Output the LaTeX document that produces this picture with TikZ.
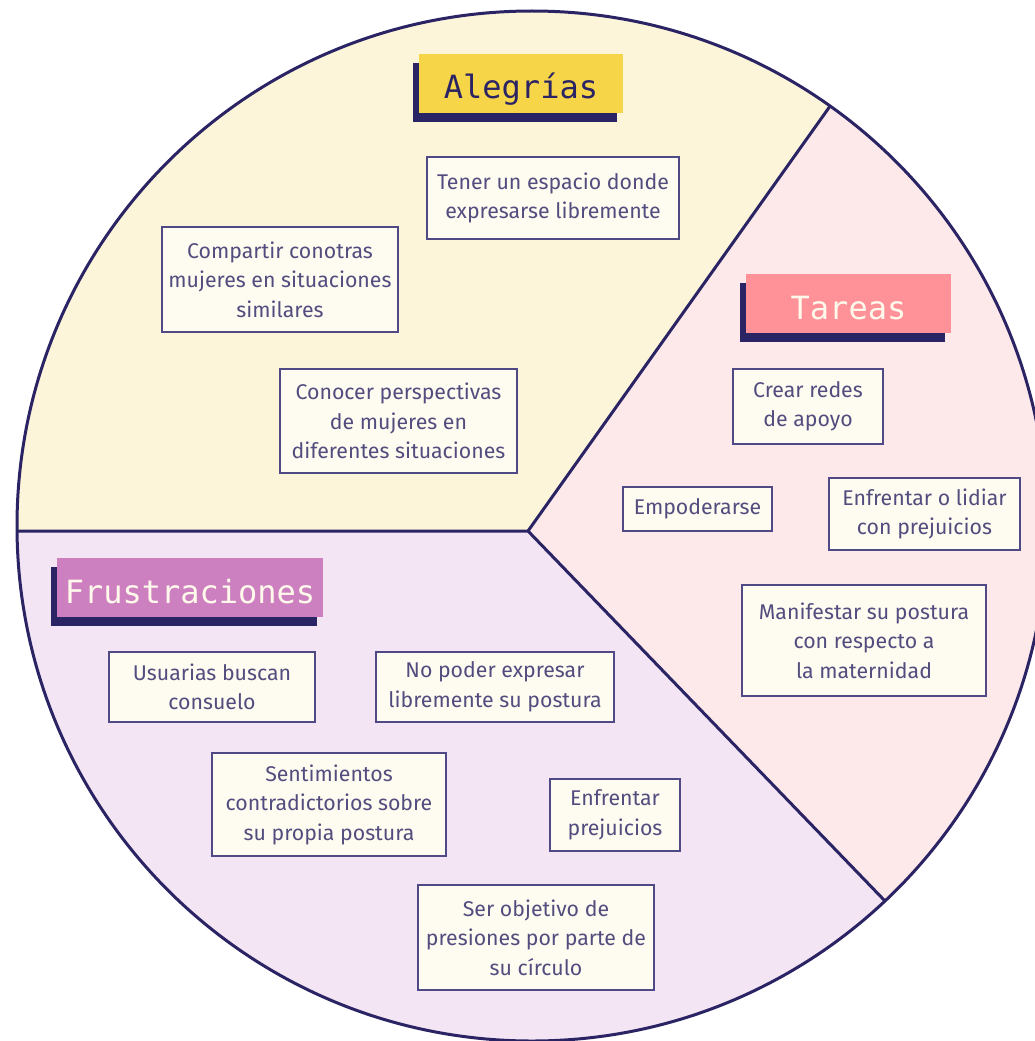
\documentclass[tikz,border=0pt]{standalone}
\usepackage{fontspec}
\setmainfont{Fira Sans}
\newfontfamily\tagfont{DejaVu Sans Mono}
\usetikzlibrary{shadows}
\definecolor{navy}{HTML}{2B2464}
\definecolor{cream}{HTML}{FCF5DA}
\definecolor{blush}{HTML}{FDE9EA}
\definecolor{lilac}{HTML}{F3E5F4}
\definecolor{sun}{HTML}{F7D548}
\definecolor{rose}{HTML}{FF9198}
\definecolor{orchid}{HTML}{CD80C0}
\definecolor{paper}{HTML}{FFF9EC}
\definecolor{boxfill}{HTML}{FEFBF0}
\definecolor{boxline}{HTML}{4F4A85}
\definecolor{boxtext}{HTML}{524D7E}
\tikzset{
	box/.style={draw=boxline, line width=1.8pt, fill=boxfill, text=boxtext, inner sep=0pt,
		align=center, font=\fontsize{21.3}{29.5}\selectfont},
	tag/.style={inner sep=0pt, minimum height=59pt, text height=31pt, text depth=0pt,
		font=\tagfont\fontsize{32}{32}\selectfont,
		drop shadow={shadow xshift=-6pt, shadow yshift=-9pt, fill=navy, opacity=1}},
}
\begin{document}
\begin{tikzpicture}[x=1pt,y=-1pt]
	\useasboundingbox[fill=white] (0,0) rectangle (1034,1041);
	\coordinate (O) at (532,526);
	\coordinate (J) at (528,531);
	\coordinate (W) at (-60,531);
	\coordinate (NE) at (1128,-313);
	\coordinate (SE) at (1242,1271);
	\begin{scope}
		\clip (O) circle (515);
		\fill[lilac] (O) circle (515);
		\fill[cream] (J) -- (W) -- (-60,-340) -- (NE) -- cycle;
		\fill[blush] (J) -- (NE) -- (1300,-313) -- (1300,1271) -- (SE) -- cycle;
		\draw[navy, line width=3pt] (W) -- (J) -- (NE) (J) -- (SE);
	\end{scope}
	\draw[navy, line width=3pt] (O) circle (515);
	\node[tag, fill=sun, text=navy, minimum width=204pt] (alegrias) at (521,83.5) {Alegrías};
	\node[tag, fill=rose, text=paper, minimum width=205pt] (tareas) at (848.5,303.5) {Tareas};
	\node[tag, fill=orchid, text=paper, minimum width=266pt] (frustraciones) at (190,587.5) {Frustraciones};
	\node[box, minimum width=252pt, minimum height=82pt] (espacio) at (553,198)
	{Tener un espacio donde\\expresarse libremente};
	\node[box, minimum width=236pt, minimum height=105pt] (compartir) at (280,279.5)
	{Compartir conotras\\mujeres en situaciones\\similares};
	\node[box, minimum width=237pt, minimum height=104pt] (conocer) at (398.5,421)
	{Conocer perspectivas\\de mujeres en\\diferentes situaciones};
	\node[box, minimum width=150pt, minimum height=75pt] (redes) at (808,406.5)
	{Crear redes\\de apoyo};
	\node[box, minimum width=149pt, minimum height=44pt] (empoderarse) at (697.5,509)
	{Empoderarse};
	\node[box, minimum width=191pt, minimum height=72pt] (lidiar) at (924.5,514)
	{Enfrentar o lidiar\\con prejuicios};
	\node[box, minimum width=244pt, minimum height=111pt] (manifestar) at (864,640.5)
	{Manifestar su postura\\con respecto a\\la maternidad};
	\node[box, minimum width=206pt, minimum height=70pt] (consuelo) at (212,687)
	{Usuarias buscan\\consuelo};
	\node[box, minimum width=238pt, minimum height=70pt] (noexpresar) at (495,687)
	{No poder expresar\\libremente su postura};
	\node[box, minimum width=234pt, minimum height=103pt] (sentimientos) at (329,804.5)
	{Sentimientos\\contradictorios sobre\\su propia postura};
	\node[box, minimum width=130pt, minimum height=72pt] (prejuicios) at (615,815)
	{Enfrentar\\prejuicios};
	\node[box, minimum width=236pt, minimum height=105pt] (presiones) at (536,937.5)
	{Ser objetivo de\\presiones por parte de\\su círculo};
\end{tikzpicture}
\end{document}
